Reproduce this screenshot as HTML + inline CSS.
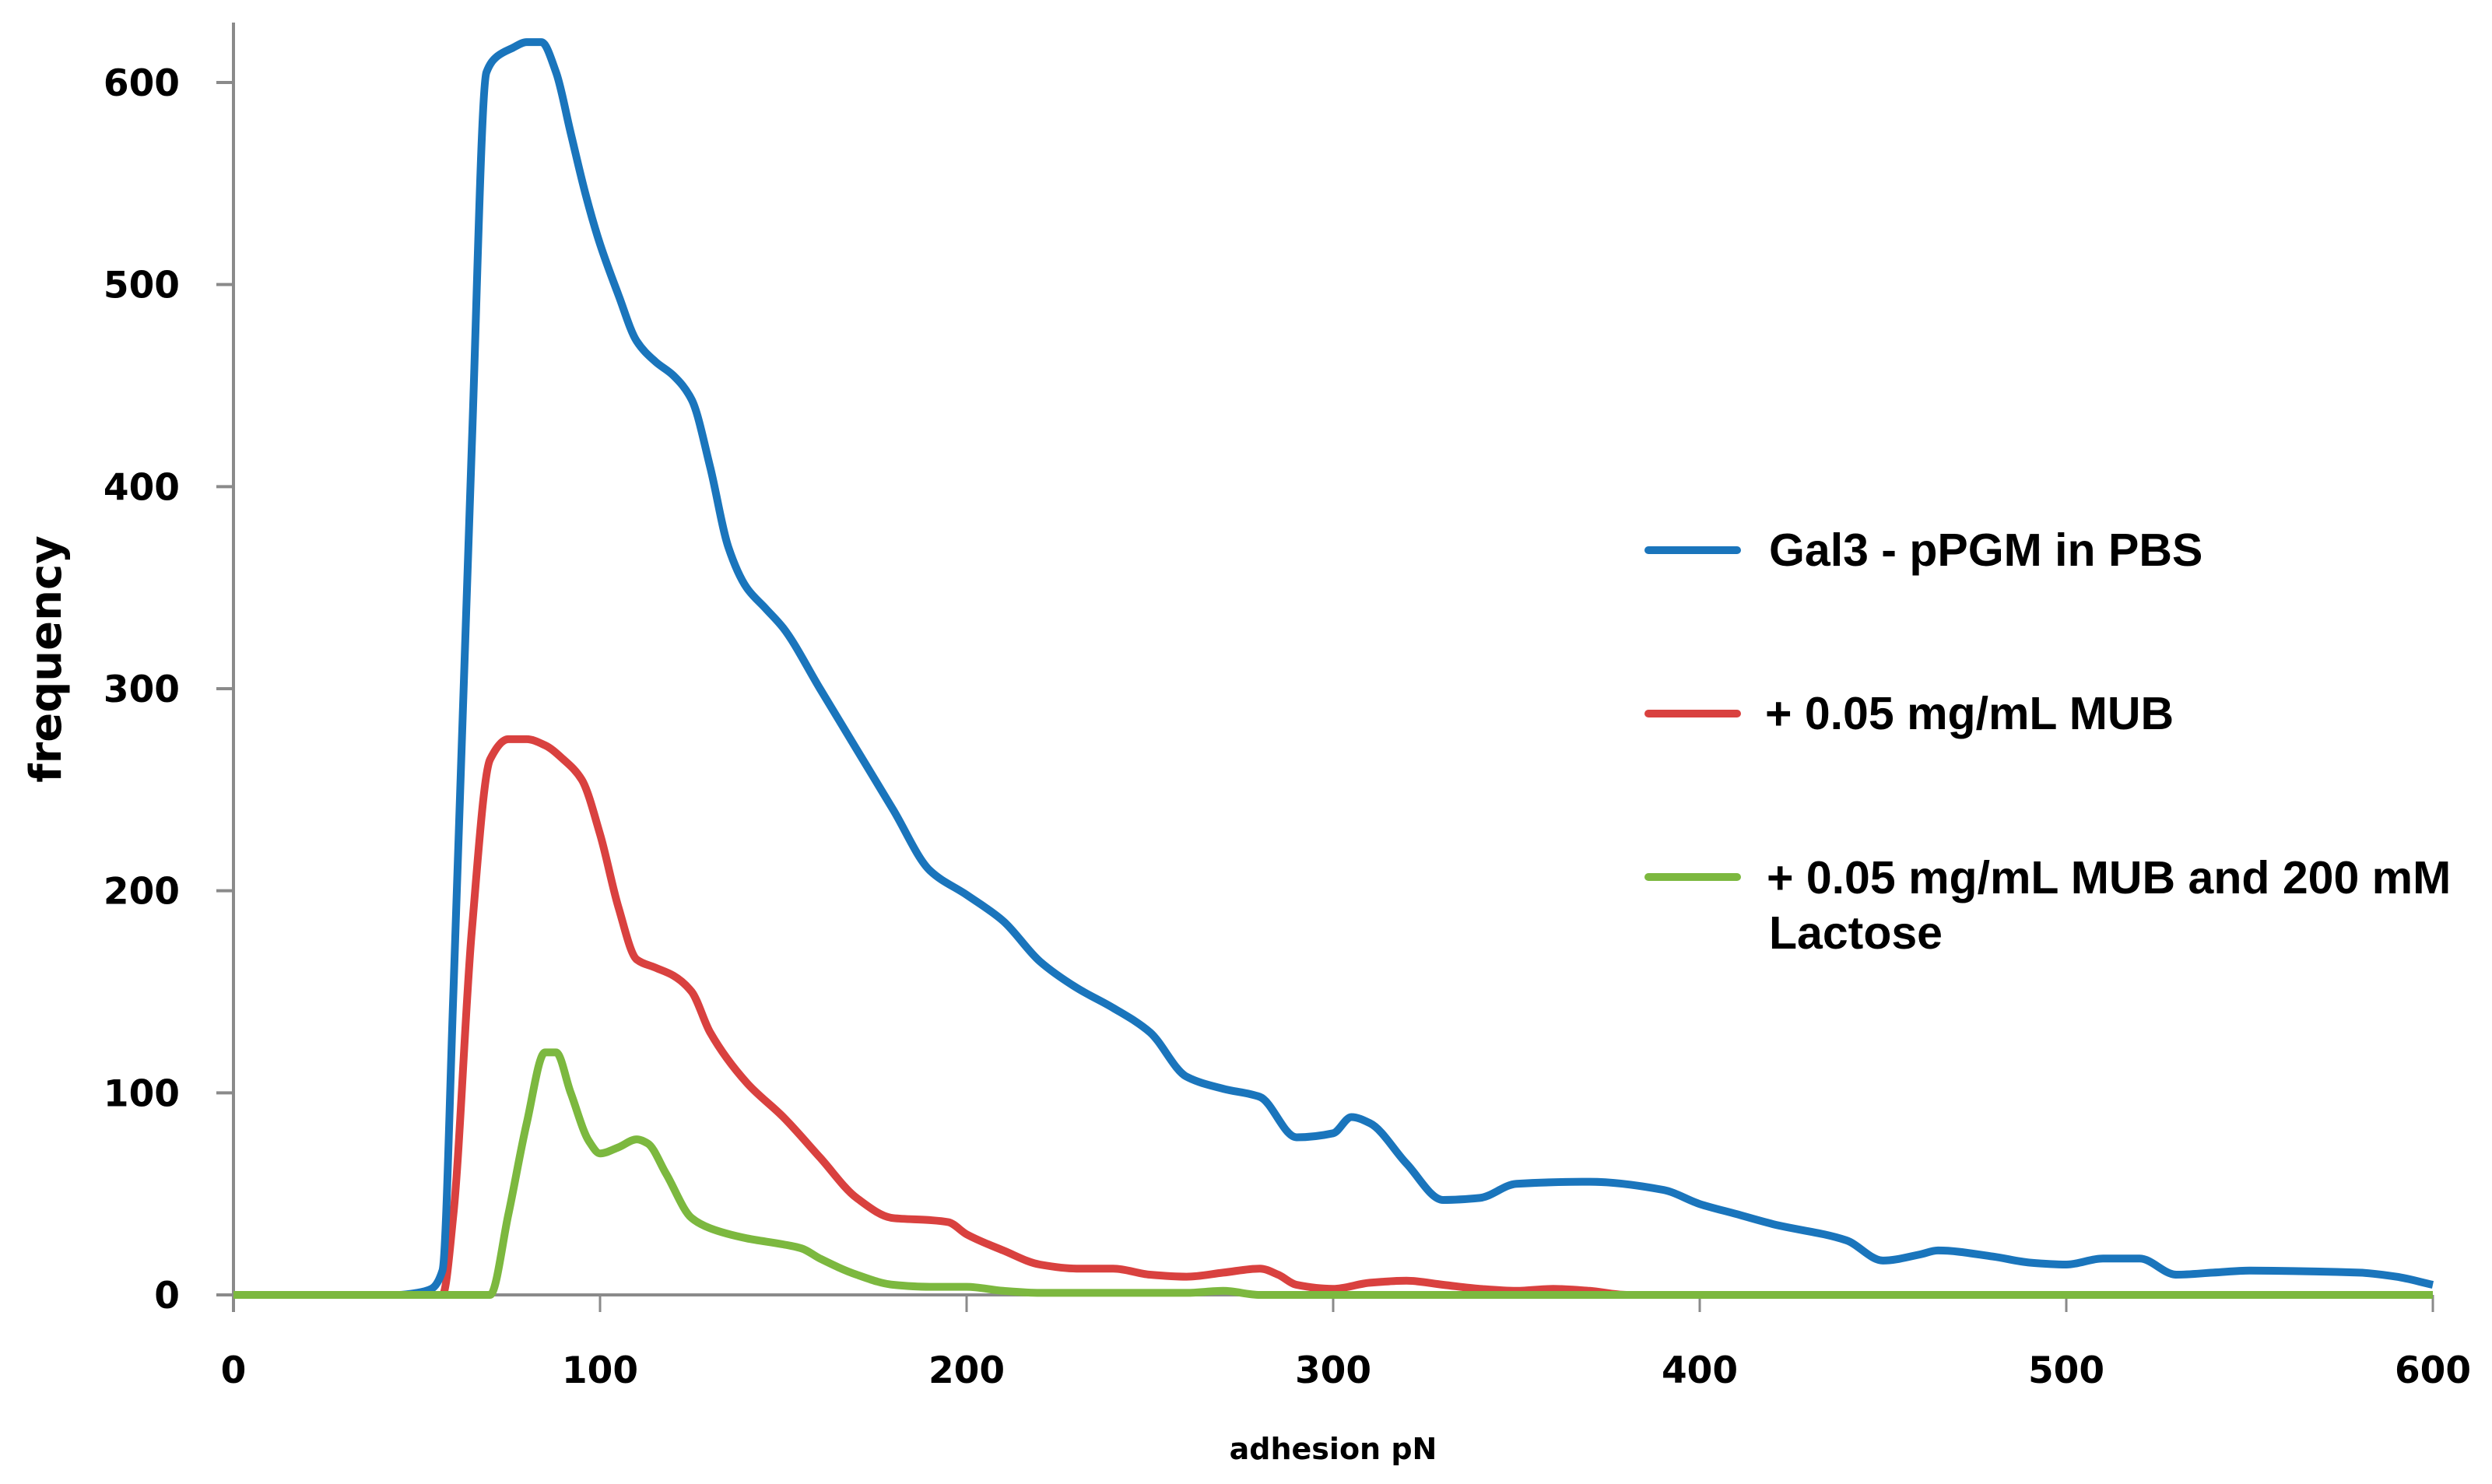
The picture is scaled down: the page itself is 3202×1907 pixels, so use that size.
<!DOCTYPE html>
<html><head><meta charset="utf-8"><style>
html,body{margin:0;padding:0;background:#fff;}
svg{display:block;}
text{font-family:"Liberation Sans",Arial,sans-serif;font-weight:bold;fill:#000;}
.dv{font-family:"DejaVu Sans","Liberation Sans",sans-serif;}
</style></head><body>
<svg id="chart" width="3202" height="1907" viewBox="0 0 3202 1907" xmlns="http://www.w3.org/2000/svg">
<g id="axes"></g>
<g id="series"></g>
<text class="dv" x="0" y="0" font-size="56" text-anchor="middle" transform="translate(78,847) rotate(-90)">frequency</text>
<text class="dv" x="1713" y="1875" font-size="38" text-anchor="middle">adhesion pN</text>
<g>
<line x1="2118" y1="707" x2="2232" y2="707" stroke="#1a75bc" stroke-width="10" stroke-linecap="round"/>
<text x="2273" y="727" font-size="59">Gal3 - pPGM in PBS</text>
<line x1="2118" y1="917" x2="2232" y2="917" stroke="#d9413f" stroke-width="10" stroke-linecap="round"/>
<text x="2268" y="937" font-size="59">+ 0.05 mg/mL MUB</text>
<line x1="2118" y1="1127" x2="2232" y2="1127" stroke="#7cb83f" stroke-width="10" stroke-linecap="round"/>
<text x="2270" y="1148" font-size="59">+ 0.05 mg/mL MUB and 200 mM</text>
<text x="2273" y="1219" font-size="59">Lactose</text>
</g>
</svg>
<script>
const xTicks = [0,100,200,300,400,500,600];
const yTicks = [0,100,200,300,400,500,600];
const blueX = [0,45,50,54,57,60,65,69,72,76,80,84,88,92,96,100,105,110,115,120,125,130,135,140,145,150,160,170,180,190,200,210,220,230,240,250,260,270,280,290,300,305,310,320,330,340,350,370,390,400,410,420,440,450,460,465,480,490,500,510,520,530,540,550,580,590,600];
const blueY = [0,0,1,3,12,150,420,605,613,617,620,620,605,575,545,520,495,472,462,455,443,410,370,350,340,330,300,270,240,210,198,185,165,152,142,130,108,102,98,78,80,88,85,65,47,48,55,56,52,45,40,35,27,17,20,22,19,16,15,18,18,10,11,12,11,9,5];
const redX = [0,55,57,60,65,70,75,80,85,90,95,100,105,110,115,120,125,130,140,150,160,170,180,190,195,200,210,220,230,240,250,260,270,280,285,290,300,310,320,330,340,350,360,370,380,600];
const redY = [0,0,0,40,180,265,275,275,272,265,255,228,192,166,162,158,150,130,105,88,68,48,38,37,36,30,22,15,13,13,10,9,11,13,10,5,3,6,7,5,3,2,3,2,0,0];
const greenX = [0,70,75,80,85,88,92,97,100,105,110,113,118,125,130,140,150,155,160,170,180,190,200,210,220,260,270,280,600];
const greenY = [0,0,40,85,120,120,100,76,70,73,77,75,60,38,33,28,25,23,18,10,5,4,4,2,1,1,2,0,0];

const X0=300, X1=3126, Y0=1664, Y1=106;
const sx = v => X0 + (v/600)*(X1-X0);
const sy = v => Y0 - (v/600)*(Y0-Y1);
const NS="http://www.w3.org/2000/svg";
const axes=document.getElementById('axes');
function mk(tag,attrs,parent){const e=document.createElementNS(NS,tag);for(const k in attrs)e.setAttribute(k,attrs[k]);parent.appendChild(e);return e;}

const yAxis = mk('line',{x1:X0,y1:29,x2:X0,y2:Y0+22,stroke:'#8a8a8a','stroke-width':4},axes);


const xAxis = mk('line',{x1:X0-22,y1:Y0,x2:X1,y2:Y0,stroke:'#8a8a8a','stroke-width':4},axes);



yTicks.forEach(v=>{
  const t=mk('line',{x1:X0-22,y1:sy(v),x2:X0,y2:sy(v),stroke:'#8a8a8a','stroke-width':4},axes);
  
  
  const l=mk('text',{x:231,y:sy(v)+17,'font-size':47,'text-anchor':'end','class':'dv'},axes);
  l.textContent=v;
  
  
});
xTicks.forEach(v=>{
  const t=mk('line',{x1:sx(v),y1:Y0,x2:sx(v),y2:Y0+22,stroke:'#8a8a8a','stroke-width':3},axes);
  
  
  const l=mk('text',{x:sx(v),y:1777,'font-size':47,'text-anchor':'middle','class':'dv'},axes);
  l.textContent=v;
  
  
});

// monotone cubic (Fritsch-Carlson) to avoid overshoot
function smoothPath(xs,ys){
  const px=xs.map(sx), py=ys.map(sy), n=px.length;
  const d=[], m=new Array(n);
  for(let i=0;i<n-1;i++) d.push((py[i+1]-py[i])/(px[i+1]-px[i]));
  m[0]=d[0]; m[n-1]=d[n-2];
  for(let i=1;i<n-1;i++){
    if(d[i-1]*d[i]<=0) m[i]=0;
    else { const h0=px[i]-px[i-1], h1=px[i+1]-px[i];
      const w1=2*h1+h0, w2=h1+2*h0; m[i]=(w1+w2)/(w1/d[i-1]+w2/d[i]); }
  }
  let s='M'+px[0].toFixed(1)+','+py[0].toFixed(1);
  for(let i=0;i<n-1;i++){
    const h=(px[i+1]-px[i])/3;
    s+=' C'+(px[i]+h).toFixed(1)+','+(py[i]+m[i]*h).toFixed(1)+' '+(px[i+1]-h).toFixed(1)+','+(py[i+1]-m[i+1]*h).toFixed(1)+' '+px[i+1].toFixed(1)+','+py[i+1].toFixed(1);
  }
  return s;
}
const ser=document.getElementById('series');
const g=mk('path',{d:smoothPath(greenX,greenY),fill:'none',stroke:'#7cb83f','stroke-width':10,'stroke-linejoin':'round'},ser);


const r=mk('path',{d:smoothPath(redX,redY),fill:'none',stroke:'#d9413f','stroke-width':10,'stroke-linejoin':'round'},ser);


const b=mk('path',{d:smoothPath(blueX,blueY),fill:'none',stroke:'#1a75bc','stroke-width':10,'stroke-linejoin':'round'},ser);


ser.appendChild(g);
</script>
</body></html>
